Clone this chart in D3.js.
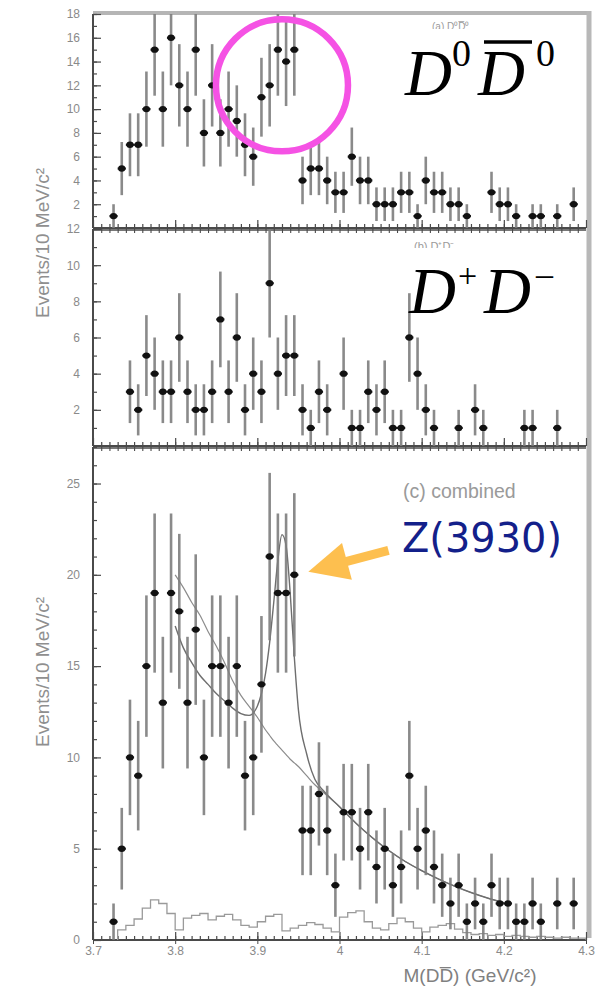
<!DOCTYPE html>
<html>
<head>
<meta charset="utf-8">
<script src="https://cdn.jsdelivr.net/npm/d3@7"></script>
<style>
  body { margin: 0; background: #fff; }
  svg { display: block; }
</style>
</head>
<body>
<svg id="chart" width="605" height="989"></svg>
<script>
// ---- x axis (invariant mass, GeV/c^2) ----
const xTickValues = [3.7, 3.8, 3.9, 4.0, 4.1, 4.2, 4.3];
const xTickLabels = ["3.7", "3.8", "3.9", "4", "4.1", "4.2", "4.3"];

// ---- y tick labels per panel ----
const yTicksD0 = [2, 4, 6, 8, 10, 12, 14, 16, 18];
const yTicksDp = [2, 4, 6, 8, 10, 12];
const yTicksComb = [0, 5, 10, 15, 20, 25];

// ---- (a) D0 D0bar : bin centre / events per 10 MeV ----
const d0Mass = [3.725, 3.735, 3.745, 3.755, 3.765, 3.775, 3.785, 3.795, 3.805, 3.815,
  3.825, 3.835, 3.845, 3.855, 3.865, 3.875, 3.885, 3.895, 3.905, 3.915,
  3.925, 3.935, 3.945, 3.955, 3.965, 3.975, 3.985, 3.995, 4.005, 4.015,
  4.025, 4.035, 4.045, 4.055, 4.065, 4.075, 4.085, 4.095, 4.105, 4.115,
  4.125, 4.135, 4.145, 4.155, 4.185, 4.195, 4.205, 4.215, 4.235, 4.245,
  4.265, 4.285];
const d0Counts = [1, 5, 7, 7, 10, 15, 10, 16, 12, 10,
  15, 8, 12, 8, 10, 9, 7, 6, 11, 12,
  15, 14, 15, 4, 5, 5, 4, 3, 3, 6,
  4, 4, 2, 2, 2, 3, 3, 1, 4, 3,
  3, 2, 2, 1, 3, 2, 2, 1, 1, 1,
  1, 2];

// ---- (b) D+ D- ----
const dpMass = [3.745, 3.755, 3.765, 3.775, 3.785, 3.795, 3.805, 3.815, 3.825, 3.835,
  3.845, 3.855, 3.865, 3.875, 3.885, 3.895, 3.905, 3.915, 3.925, 3.935,
  3.945, 3.955, 3.965, 3.975, 3.985, 4.005, 4.015, 4.025, 4.035, 4.045,
  4.055, 4.065, 4.075, 4.085, 4.095, 4.105, 4.115, 4.145, 4.165, 4.175,
  4.225, 4.235, 4.265];
const dpCounts = [3, 2, 5, 4, 3, 3, 6, 3, 2, 2,
  3, 7, 3, 6, 2, 4, 3, 9, 4, 5,
  5, 2, 1, 3, 2, 4, 1, 1, 3, 2,
  3, 1, 1, 6, 4, 2, 1, 1, 2, 1,
  1, 1, 1];

// ---- (c) combined ----
const combMass = [3.725, 3.735, 3.745, 3.755, 3.765, 3.775, 3.785, 3.795, 3.805, 3.815,
  3.825, 3.835, 3.845, 3.855, 3.865, 3.875, 3.885, 3.895, 3.905, 3.915,
  3.925, 3.935, 3.945, 3.955, 3.965, 3.975, 3.985, 3.995, 4.005, 4.015,
  4.025, 4.035, 4.045, 4.055, 4.065, 4.075, 4.085, 4.095, 4.105, 4.115,
  4.125, 4.135, 4.145, 4.155, 4.165, 4.175, 4.185, 4.195, 4.205, 4.215,
  4.225, 4.235, 4.245, 4.265, 4.285];
const combCounts = [1, 5, 10, 9, 15, 19, 13, 19, 18, 13,
  17, 10, 15, 15, 13, 15, 9, 10, 14, 21,
  19, 19, 20, 6, 6, 8, 6, 3, 7, 7,
  5, 7, 4, 5, 3, 4, 9, 5, 6, 4,
  3, 2, 3, 1, 2, 1, 3, 2, 2, 1,
  1, 2, 1, 2, 2];

// ---- fit curves on the combined spectrum ----
const fitMass = [3.80, 3.81, 3.82, 3.83, 3.84, 3.85, 3.86, 3.87, 3.88, 3.89,
  3.90, 3.905, 3.91, 3.915, 3.92, 3.925, 3.93, 3.935, 3.94, 3.945,
  3.95, 3.96, 3.97, 3.98, 4.00, 4.02, 4.04, 4.06, 4.08, 4.10,
  4.12, 4.14, 4.16, 4.18, 4.20];
const fitWithZ = [17.2, 16.0, 15.2, 14.5, 14.0, 13.5, 13.1, 12.7, 12.4, 12.3,
  12.8, 13.5, 14.6, 16.3, 18.5, 20.8, 22.2, 21.6, 19.0, 15.5,
  12.6, 10.2, 8.8, 8.2, 7.3, 6.4, 5.6, 4.9, 4.3, 3.8,
  3.35, 2.95, 2.6, 2.3, 2.05];
const fitNoZ = [20.0, 19.3, 18.5, 17.8, 16.9, 16.1, 15.2, 14.2, 13.4, 12.8,
  12.2, 11.85, 11.5, 11.2, 10.9, 10.65, 10.4, 10.15, 9.9, 9.7,
  9.5, 9.0, 8.5, 8.1, 7.3, 6.4, 5.6, 4.9, 4.3, 3.8,
  3.35, 2.95, 2.6, 2.3, 2.05];

// ---- sideband background histogram (bin centres) ----
const bkgMass = [3.735, 3.745, 3.755, 3.765, 3.775, 3.785, 3.795, 3.805, 3.815, 3.825,
  3.835, 3.845, 3.855, 3.865, 3.875, 3.885, 3.895, 3.905, 3.915, 3.925,
  3.935, 3.945, 3.955, 3.965, 3.975, 3.985, 3.995, 4.005, 4.015, 4.025,
  4.035, 4.045, 4.055, 4.065, 4.075, 4.085, 4.095, 4.105, 4.115, 4.125,
  4.135, 4.145, 4.155, 4.165, 4.175, 4.185, 4.195, 4.205, 4.215, 4.225,
  4.235, 4.245, 4.255, 4.265, 4.275, 4.285, 4.295];
const bkgCounts = [0.55, 0.8, 1.15, 1.75, 2.2, 2.0, 1.45, 0.55, 1.2, 1.35,
  1.45, 1.1, 1.3, 1.4, 1.1, 0.8, 0.7, 1.0, 1.3, 1.4,
  0.5, 0.65, 0.8, 0.95, 0.85, 0.65, 0.45, 1.25, 1.5, 1.6,
  1.0, 0.65, 0.55, 0.9, 1.2, 1.0, 0.65, 0.45, 0.7, 0.8,
  0.9, 0.6, 0.4, 0.3, 0.35, 0.25, 0.3, 0.2, 0.25, 0.2,
  0.15, 0.2, 0.15, 0.1, 0.15, 0.1, 0.1];

const binWidth = 0.01;

// ---------------------------------------------------------------
const svg = d3.select("#chart");
const x = d3.scaleLinear().domain([3.7, 4.3]).range([93, 586]);

const panels = [
  { id: "d0", y: d3.scaleLinear().domain([0, 18]).range([228, 14]), ticks: yTicksD0,
    mass: d0Mass, counts: d0Counts },
  { id: "dp", y: d3.scaleLinear().domain([0, 12]).range([446, 229]), ticks: yTicksDp,
    mass: dpMass, counts: dpCounts },
  { id: "comb", y: d3.scaleLinear().domain([0, 27]).range([940, 447]), ticks: yTicksComb,
    mass: combMass, counts: combCounts }
];

const defs = svg.append("defs");
panels.forEach(p => {
  const [y0, y1] = p.y.range();
  defs.append("clipPath").attr("id", "clip-" + p.id)
    .append("rect").attr("x", x.range()[0]).attr("y", y1)
    .attr("width", x.range()[1] - x.range()[0]).attr("height", y0 - y1);
});

const frameColor = "#4a4a4a";
const tickText = "#8a8a8a";
const sans = "Liberation Sans, Arial, sans-serif";

// outer shaded border (top and right)
svg.append("line").attr("x1", x.range()[0]).attr("x2", x.range()[1] + 3)
  .attr("y1", panels[0].y.range()[1] - 1).attr("y2", panels[0].y.range()[1] - 1)
  .attr("stroke", "#b5b5b5").attr("stroke-width", 4);
svg.append("line").attr("x1", x.range()[1] + 3).attr("x2", x.range()[1] + 3)
  .attr("y1", panels[0].y.range()[1] - 3).attr("y2", panels[2].y.range()[0] - 2)
  .attr("stroke", "#b8b8b8").attr("stroke-width", 5);

panels.forEach((p, i) => {
  const g = svg.append("g");
  const [yb, yt] = p.y.range();

  // x ticks (minor every 10 MeV, major every 100 MeV), inward on the lower edge
  const xMinor = d3.axisBottom(x).tickValues(d3.range(3.71, 4.30, 0.01)).tickSize(-4).tickFormat("");
  const xMajor = d3.axisBottom(x).tickValues(xTickValues).tickSize(-8)
    .tickFormat((d, k) => i === 2 ? xTickLabels[k] : "").tickPadding(6);
  [xMinor, xMajor].forEach(ax => {
    const a = g.append("g").attr("transform", `translate(0,${yb})`).call(ax);
    a.select(".domain").remove();
    a.selectAll(".tick line").attr("stroke", frameColor).attr("stroke-width", 1.2);
    a.selectAll("text").attr("fill", tickText).attr("font-size", 12).attr("font-family", sans);
  });
  if (i === 2) {
    // major ticks poke below the axis
    g.append("g").attr("transform", `translate(0,${yb})`)
      .call(d3.axisBottom(x).tickValues(xTickValues).tickSize(4).tickFormat(""))
      .call(a => { a.select(".domain").remove(); a.selectAll("line").attr("stroke", frameColor); });
  }
  // ticks along the upper edge of the lower panels
  if (i > 0) {
    const a = g.append("g").attr("transform", `translate(0,${yt})`)
      .call(d3.axisTop(x).tickValues(d3.range(3.71, 4.30, 0.01)).tickSize(-4).tickFormat(""));
    a.select(".domain").remove();
    a.selectAll("line").attr("stroke", frameColor).attr("stroke-width", 1.1);
  }

  // y ticks, inward
  const yMinor = d3.axisLeft(p.y).tickValues(d3.range(1, p.y.domain()[1] + 0.5, 1)).tickSize(-4).tickFormat("");
  const yMajor = d3.axisLeft(p.y).tickValues(p.ticks).tickSize(-8).tickPadding(13);
  [yMinor, yMajor].forEach(ax => {
    const a = g.append("g").attr("transform", `translate(${x.range()[0]},0)`).call(ax);
    a.select(".domain").remove();
    a.selectAll(".tick line").attr("stroke", frameColor).attr("stroke-width", 1.2);
    a.selectAll("text").attr("fill", tickText).attr("font-size", 12).attr("font-family", sans);
  });

  // frame: left and lower edges, plus upper edge of the lower panels
  g.append("line").attr("x1", x.range()[0]).attr("x2", x.range()[0])
    .attr("y1", yt).attr("y2", yb).attr("stroke", frameColor).attr("stroke-width", 2);
  g.append("line").attr("x1", x.range()[0]).attr("x2", x.range()[1])
    .attr("y1", yb).attr("y2", yb).attr("stroke", frameColor).attr("stroke-width", 2);
  if (i > 0) {
    g.append("line").attr("x1", x.range()[0]).attr("x2", x.range()[1])
      .attr("y1", yt + 1).attr("y2", yt + 1).attr("stroke", frameColor).attr("stroke-width", 1.6);
  }
});

// ---- combined panel: background histogram and fit curves ----
const pc = panels[2];
const plotC = svg.append("g").attr("clip-path", "url(#clip-comb)");

const histPts = [];
bkgMass.forEach((m, k) => {
  histPts.push([m - binWidth / 2, bkgCounts[k]]);
  histPts.push([m + binWidth / 2, bkgCounts[k]]);
});
plotC.append("path")
  .attr("d", d3.line().x(d => x(d[0])).y(d => pc.y(d[1]))(
    [[bkgMass[0] - binWidth / 2, 0], ...histPts, [bkgMass[bkgMass.length - 1] + binWidth / 2, 0]]))
  .attr("fill", "none").attr("stroke", "#9a9a9a").attr("stroke-width", 1.3);

const fitLine = vals => d3.line().curve(d3.curveMonotoneX)
  .x((d, k) => x(fitMass[k])).y(d => pc.y(d))(vals);
plotC.append("path").attr("d", fitLine(fitNoZ))
  .attr("fill", "none").attr("stroke", "#8c8c8c").attr("stroke-width", 1.2);
plotC.append("path").attr("d", fitLine(fitWithZ))
  .attr("fill", "none").attr("stroke", "#6e6e6e").attr("stroke-width", 1.4);

// ---- data points with errors ----
panels.forEach(p => {
  const pts = p.mass.map((m, k) => ({ m, n: p.counts[k] }));
  const g = svg.append("g").attr("clip-path", `url(#clip-${p.id})`);
  g.selectAll("line.err").data(pts).join("line").attr("class", "err")
    .attr("x1", d => x(d.m)).attr("x2", d => x(d.m))
    .attr("y1", d => p.y(Math.max(0, d.n - Math.sqrt(d.n))))
    .attr("y2", d => p.y(d.n + Math.sqrt(d.n)))
    .attr("stroke", "#7d7d7d").attr("stroke-width", 2.6).attr("stroke-opacity", 0.9);
  g.selectAll("line.bin").data(pts).join("line").attr("class", "bin")
    .attr("x1", d => x(d.m - binWidth / 2)).attr("x2", d => x(d.m + binWidth / 2))
    .attr("y1", d => p.y(d.n)).attr("y2", d => p.y(d.n))
    .attr("stroke", "#1a1a1a").attr("stroke-width", 2.2);
  g.selectAll("ellipse").data(pts).join("ellipse")
    .attr("cx", d => x(d.m)).attr("cy", d => p.y(d.n))
    .attr("rx", 3.6).attr("ry", 3.2).attr("fill", "#111");
});

// ---- axis titles ----
[243, 672].forEach(cy => {
  svg.append("text").attr("transform", `translate(49,${cy}) rotate(-90)`)
    .attr("text-anchor", "middle").attr("font-family", sans)
    .attr("font-size", 19).attr("fill", "#8f8f8f")
    .text("Events/10 MeV/c²");
});
svg.append("text").attr("x", 470).attr("y", 982).attr("text-anchor", "middle")
  .attr("font-family", sans).attr("font-size", 19).attr("fill", "#808080")
  .text("M(DD\u0305) (GeV/c²)");

// ---- panel captions ----
defs.append("clipPath").attr("id", "capA").append("rect")
  .attr("x", 400).attr("y", 18).attr("width", 140).attr("height", 11);
defs.append("clipPath").attr("id", "capB").append("rect")
  .attr("x", 400).attr("y", 238).attr("width", 140).attr("height", 10);
svg.append("text").attr("x", 432).attr("y", 30).attr("clip-path", "url(#capA)")
  .attr("font-family", sans).attr("font-size", 10).attr("fill", "#9a9a9a")
  .text("(a) D⁰D̅⁰");
svg.append("text").attr("x", 414).attr("y", 250).attr("clip-path", "url(#capB)")
  .attr("font-family", sans).attr("font-size", 11).attr("fill", "#9a9a9a")
  .text("(b) D⁺D⁻");
svg.append("text").attr("x", 403).attr("y", 498)
  .attr("font-family", sans).attr("font-size", 19.5).attr("fill", "#9a9a9a")
  .text("(c) combined");

// ---- large channel labels ----
const serif = "Liberation Serif, Times New Roman, serif";
const lab1 = svg.append("g").attr("font-family", serif).attr("fill", "#000");
lab1.append("text").attr("x", 405).attr("y", 95).attr("font-size", 65).attr("font-style", "italic").text("D");
lab1.append("text").attr("x", 452).attr("y", 66).attr("font-size", 38).text("0");
lab1.append("text").attr("x", 478).attr("y", 95).attr("font-size", 65).attr("font-style", "italic").text("D");
lab1.append("line").attr("x1", 484).attr("x2", 532).attr("y1", 42).attr("y2", 42)
  .attr("stroke", "#000").attr("stroke-width", 3.5);
lab1.append("text").attr("x", 536).attr("y", 66).attr("font-size", 38).text("0");

const lab2 = svg.append("g").attr("font-family", serif).attr("fill", "#000");
lab2.append("text").attr("x", 409).attr("y", 313).attr("font-size", 65).attr("font-style", "italic").text("D");
lab2.append("text").attr("x", 458).attr("y", 287).attr("font-size", 34).text("+");
lab2.append("text").attr("x", 484).attr("y", 313).attr("font-size", 65).attr("font-style", "italic").text("D");
lab2.append("text").attr("x", 536).attr("y", 285).attr("font-size", 34).text("\u2013");

// ---- highlight of the Z(3930) region in the D0 D0bar spectrum ----
svg.append("circle").attr("cx", x(3.93)).attr("cy", panels[0].y(12)).attr("r", 66)
  .attr("fill", "none").attr("stroke", "#f552e4").attr("stroke-width", 6.5);

// ---- Z(3930) annotation with arrow to the peak bin ----
const tipX = x(3.945) + 14, tipY = pc.y(20) - 3;
const ang = Math.atan2(-22, 82);   // arrow points down-left toward the peak
const dx = Math.cos(ang), dy = Math.sin(ang);
const headLen = 40, headHalf = 19;
const bx = tipX + dx * headLen, by = tipY + dy * headLen;
const arrow = svg.append("g").attr("fill", "#fdbf4f").attr("stroke", "none");
arrow.append("line").attr("x1", bx - dx * 2).attr("y1", by - dy * 2)
  .attr("x2", tipX + dx * 83).attr("y2", tipY + dy * 83)
  .attr("stroke", "#fdbf4f").attr("stroke-width", 9);
arrow.append("path").attr("d", d3.line()([
  [tipX, tipY],
  [bx - dy * headHalf, by + dx * headHalf],
  [bx + dy * headHalf, by - dx * headHalf]
]) + "Z");

svg.append("text").attr("x", 402).attr("y", 552)
  .attr("font-family", "DejaVu Sans, sans-serif").attr("font-size", 40)
  .attr("fill", "#13208a").attr("textLength", 160).attr("lengthAdjust", "spacingAndGlyphs")
  .text("Z(3930)");
</script>
</body>
</html>
